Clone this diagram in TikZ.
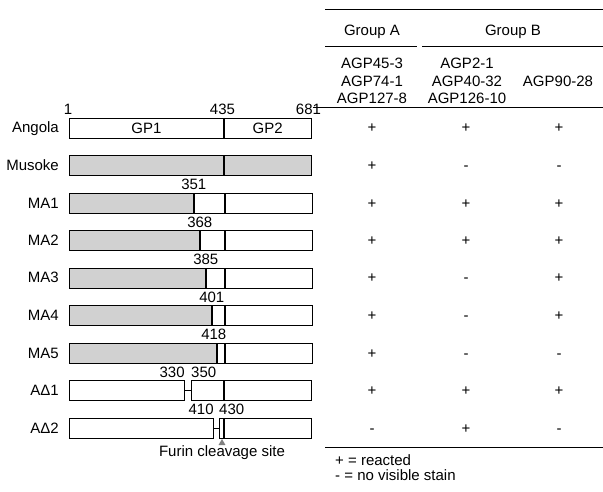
\documentclass[tikz,border=0pt]{standalone}
\usepackage{fontspec}
\setmainfont{Liberation Sans}
\usepackage{xcolor}
\usepackage{tikz}
\usetikzlibrary{shapes,positioning}

\begin{document}
\begin{tikzpicture}[
    x=1pt, y=1pt,
    every node/.style={font=\fontsize{15}{17.5}\selectfont},
    bar/.style={rectangle, draw, line width=0.8pt, minimum height=20pt, inner sep=0pt, anchor=west},
    stain/.style={bar, fill=black!18},
    lbl/.style={anchor=base east, inner sep=0pt},
    num/.style={anchor=base, inner sep=0pt},
    sign/.style={anchor=base, inner sep=0pt},
    rule/.style={line width=1pt}
]
\useasboundingbox (0,0) rectangle (603,491);

% Angola (wild type)
\node[lbl] (angolalbl) at (59,358) {Angola};
\node[bar, minimum width=154pt] (angola1) at (69,363) {GP1};
\node[bar, minimum width=87pt] (angola2) at (angola1.east) {GP2};
\node[num] (pos1) at (68,376) {1};
\node[num] (pos435) at (222.5,376) {435};
\node[num] (pos681) at (308.5,376) {681};

% Musoke
\node[lbl] (musokelbl) at (59,320.5) {Musoke};
\node[stain, minimum width=154pt] (musoke1) at (69,325.5) {};
\node[stain, minimum width=87pt] (musoke2) at (musoke1.east) {};

% MA1
\node[lbl] (ma1lbl) at (59,283) {MA1};
\node[stain, minimum width=124pt] (ma1a) at (69,288) {};
\node[bar, minimum width=30pt] (ma1b) at (ma1a.east) {};
\node[bar, minimum width=87pt] (ma1c) at (ma1b.east) {};
\node[num] at ([yshift=3pt]ma1a.north east) {351};

% MA2
\node[lbl] (ma2lbl) at (59,245.5) {MA2};
\node[stain, minimum width=130pt] (ma2a) at (69,250.5) {};
\node[bar, minimum width=24pt] (ma2b) at (ma2a.east) {};
\node[bar, minimum width=87pt] (ma2c) at (ma2b.east) {};
\node[num] at ([yshift=3pt]ma2a.north east) {368};

% MA3
\node[lbl] (ma3lbl) at (59,208) {MA3};
\node[stain, minimum width=136pt] (ma3a) at (69,213) {};
\node[bar, minimum width=18pt] (ma3b) at (ma3a.east) {};
\node[bar, minimum width=87pt] (ma3c) at (ma3b.east) {};
\node[num] at ([yshift=3pt]ma3a.north east) {385};

% MA4
\node[lbl] (ma4lbl) at (59,170.5) {MA4};
\node[stain, minimum width=142pt] (ma4a) at (69,175.5) {};
\node[bar, minimum width=12pt] (ma4b) at (ma4a.east) {};
\node[bar, minimum width=87pt] (ma4c) at (ma4b.east) {};
\node[num] at ([yshift=3pt]ma4a.north east) {401};

% MA5
\node[lbl] (ma5lbl) at (59,133) {MA5};
\node[stain, minimum width=147pt] (ma5a) at (69,138) {};
\node[bar, minimum width=7pt] (ma5b) at (ma5a.east) {};
\node[bar, minimum width=87pt] (ma5c) at (ma5b.east) {};
\node[num] at ([yshift=3pt,xshift=-3pt]ma5a.north east) {418};

% A-Delta-1
\node[lbl] (ad1lbl) at (59,95.5) {AΔ1};
\node[bar, minimum width=115pt] (ad1a) at (69,100.5) {};
\node[bar, minimum width=32pt] (ad1b) at (191,100.5) {};
\node[bar, minimum width=87pt] (ad1c) at (ad1b.east) {};
\draw[line width=0.8pt] (ad1a.east) -- (ad1b.west);
\node[num, anchor=base east] at ([yshift=3pt]ad1a.north east) {330};
\node[num, anchor=base west] at ([yshift=3pt]ad1b.north west) {350};

% A-Delta-2
\node[lbl] (ad2lbl) at (59,58) {AΔ2};
\node[bar, minimum width=144pt] (ad2a) at (69,63) {};
\node[bar, minimum width=4pt] (ad2b) at (219,63) {};
\node[bar, minimum width=87pt] (ad2c) at (ad2b.east) {};
\draw[line width=0.8pt] (ad2a.east) -- (ad2b.west);
\node[num, anchor=base east] at ([yshift=3pt]ad2a.north east) {410};
\node[num, anchor=base west] at ([yshift=3pt]ad2b.north west) {430};

% Furin cleavage site
\node[regular polygon, regular polygon sides=3, fill=black!50, minimum size=8pt, inner sep=0pt] (furin) at (222,48) {};
\node[below=0.5pt of furin, inner sep=0pt] (furinlbl) {Furin cleavage site};

% Table header
\draw[rule] (325,481) -- (603,481);
\node[sign] (groupa) at (372,455) {Group A};
\node[sign] (groupb) at (513,455) {Group B};
\draw[rule] (325,444) -- (417,444);
\draw[rule] (422,444) -- (603,444);
\node[align=center, inner sep=0pt] (cola) at (372,410) {AGP45-3\\AGP74-1\\AGP127-8};
\node[align=center, inner sep=0pt] (colb) at (467,410) {AGP2-1\\AGP40-32\\AGP126-10};
\node[inner sep=0pt] (colc) at (558,410) {AGP90-28};
\draw[rule] (313,383) -- (603,383);

% Reactivity
\node[sign] at (372,358) {+};   \node[sign] at (466,358) {+};   \node[sign] at (559,358) {+};
\node[sign] at (372,320.5) {+}; \node[sign] at (466,320.5) {-}; \node[sign] at (559,320.5) {-};
\node[sign] at (372,283) {+};   \node[sign] at (466,283) {+};   \node[sign] at (559,283) {+};
\node[sign] at (372,245.5) {+}; \node[sign] at (466,245.5) {+}; \node[sign] at (559,245.5) {+};
\node[sign] at (372,208) {+};   \node[sign] at (466,208) {-};   \node[sign] at (559,208) {+};
\node[sign] at (372,170.5) {+}; \node[sign] at (466,170.5) {-}; \node[sign] at (559,170.5) {+};
\node[sign] at (372,133) {+};   \node[sign] at (466,133) {-};   \node[sign] at (559,133) {-};
\node[sign] at (372,95.5) {+};  \node[sign] at (466,95.5) {+};  \node[sign] at (559,95.5) {+};
\node[sign] at (372,58) {-};    \node[sign] at (466,58) {+};    \node[sign] at (559,58) {-};

% Legend
\draw[rule] (325,44) -- (603,44);
\node[sign, anchor=base west] (legplus) at (335,26) {+ = reacted};
\node[sign, anchor=base west] (legminus) at (335,11) {- = no visible stain};

\end{tikzpicture}
\end{document}
